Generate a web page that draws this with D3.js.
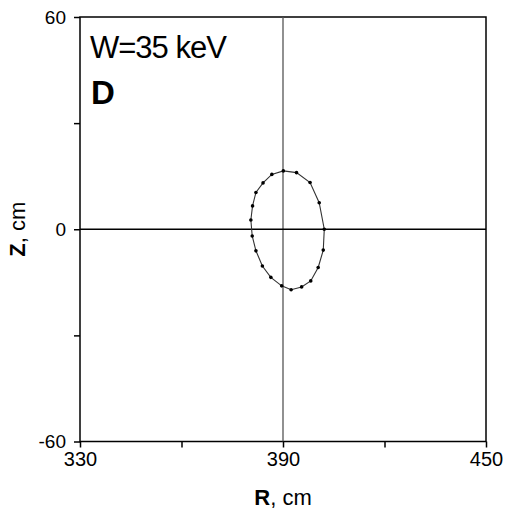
<!DOCTYPE html>
<html><head><meta charset="utf-8">
<script src="https://cdn.jsdelivr.net/npm/d3@7"></script>
<style>body{margin:0;background:#fff}svg{display:block}text{font-family:Arial,"Liberation Sans",sans-serif}</style>
</head><body>
<svg id="c" width="506" height="509"></svg>
<script>
const rValues = [390.1,394.0,398.0,400.7,402.2,401.9,400.4,398.2,395.5,392.4,389.6,386.4,383.9,382.0,380.9,380.5,381.0,382.0,384.1,386.7];
const zValues = [16.5,16.0,13.2,7.5,0,-5.9,-10.8,-14.6,-16.3,-17.1,-16.0,-13.6,-10.4,-6.1,-1.9,2.6,6.6,10.4,13.1,15.5];
const xTicks = [330,390,450];
const xMinor = [360,420];
const yTicks = [-60,0,60];
const yMinor = [-30,30];

const svg = d3.select("#c");
const L=80,R=486,T=17,B=441.5;
const x = d3.scaleLinear().domain([330,450]).range([L,R]);
const y = d3.scaleLinear().domain([-60,60]).range([B,T]);
const fmt = d => String(d);

// frame
svg.append("rect").attr("x",L).attr("y",T).attr("width",R-L).attr("height",B-T)
  .attr("fill","none").attr("stroke","#000").attr("stroke-width",1.5);

// cross lines
svg.append("line").attr("x1",x(390)).attr("x2",x(390)).attr("y1",T).attr("y2",B)
  .attr("stroke","#555").attr("stroke-width",1.3);
svg.append("line").attr("x1",L).attr("x2",R).attr("y1",y(0)).attr("y2",y(0))
  .attr("stroke","#000").attr("stroke-width",1.3);

// axes
const xAxis = d3.axisBottom(x).tickValues(xTicks).tickSize(6).tickPadding(4).tickFormat(fmt);
const gx = svg.append("g").attr("transform",`translate(0,${B})`).call(xAxis);
gx.select(".domain").remove();
gx.selectAll("line").attr("stroke","#000").attr("stroke-width",1.5);
gx.selectAll("text").attr("font-size",20).attr("fill","#000");
const gxm = svg.append("g").attr("transform",`translate(0,${B})`).call(d3.axisBottom(x).tickValues(xMinor).tickSize(6).tickFormat(""));
gxm.select(".domain").remove();
gxm.selectAll("line").attr("stroke","#000").attr("stroke-width",1.5);

const yAxis = d3.axisLeft(y).tickValues(yTicks).tickSize(6).tickPadding(8).tickFormat(fmt);
const gy = svg.append("g").attr("transform",`translate(${L},0)`).call(yAxis);
gy.select(".domain").remove();
gy.selectAll("line").attr("stroke","#000").attr("stroke-width",1.5);
gy.selectAll("text").attr("font-size",19).attr("fill","#000");
const gym = svg.append("g").attr("transform",`translate(${L},0)`).call(d3.axisLeft(y).tickValues(yMinor).tickSize(6).tickFormat(""));
gym.select(".domain").remove();
gym.selectAll("line").attr("stroke","#000").attr("stroke-width",1.5);

// axis titles
svg.append("text").attr("x",(L+R)/2).attr("y",505).attr("text-anchor","middle").attr("font-size",22)
  .html('<tspan font-weight="bold">R</tspan>, cm');
svg.append("text").attr("transform",`translate(25,${y(0)}) rotate(-90)`).attr("text-anchor","middle").attr("font-size",22)
  .html('<tspan font-weight="bold">Z</tspan>, cm');

// annotations
svg.append("text").attr("x",90).attr("y",58).attr("font-size",31).attr("letter-spacing",-1).text("W=35 keV");
svg.append("text").attr("x",91).attr("y",104).attr("font-size",33).attr("font-weight","bold").text("D");

// data
const pts = rValues.map((r,i)=>[r,zValues[i]]);
svg.append("path").datum(pts)
  .attr("d",d3.line().x(d=>x(d[0])).y(d=>y(d[1])).curve(d3.curveLinearClosed))
  .attr("fill","none").attr("stroke","#333").attr("stroke-width",1.1);
svg.selectAll("circle.p").data(pts).join("circle").attr("class","p")
  .attr("cx",d=>x(d[0])).attr("cy",d=>y(d[1])).attr("r",1.8).attr("fill","#000");
</script>
</body></html>
